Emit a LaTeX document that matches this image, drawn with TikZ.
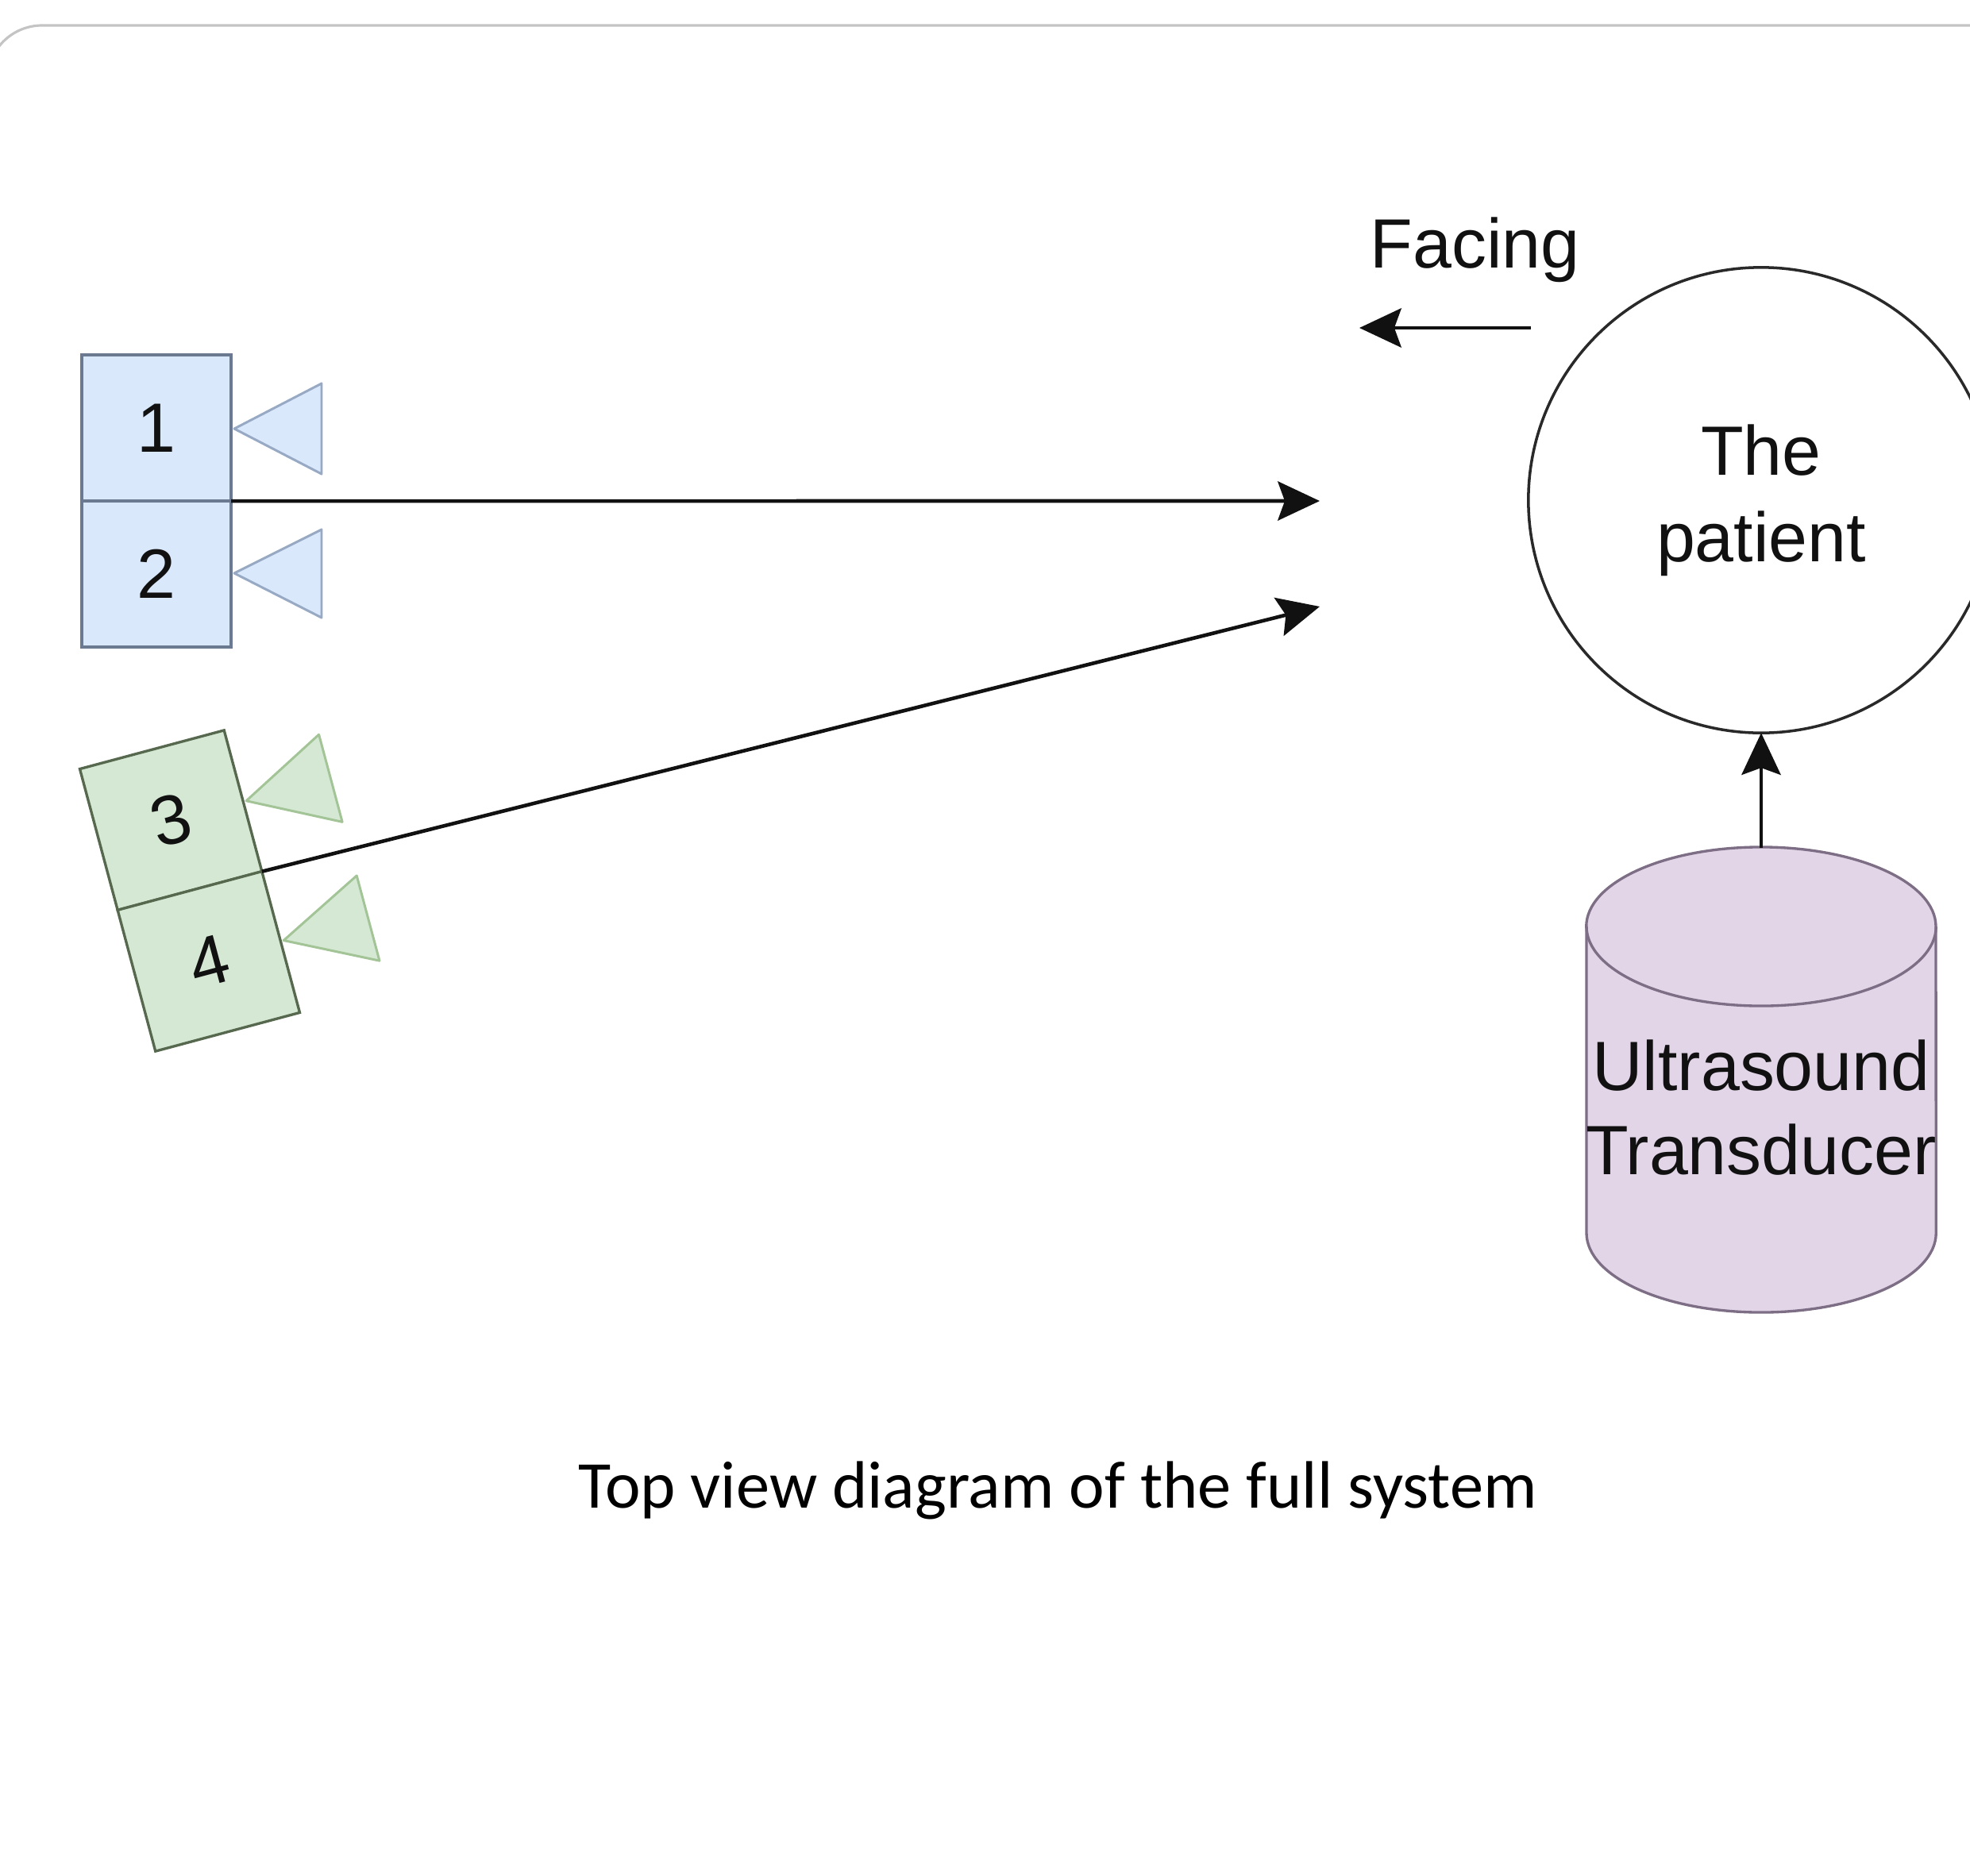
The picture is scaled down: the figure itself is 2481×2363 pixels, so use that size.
\documentclass[tikz,border=0pt]{standalone}
\usepackage{fontspec}
\setmainfont{Liberation Sans}
\newfontfamily\captionfont{Carlito}
\usetikzlibrary{arrows.meta}
\definecolor{ink}{HTML}{111111}
\definecolor{framegray}{HTML}{C4C4C4}
\definecolor{bluefill}{HTML}{DAE8FC}
\definecolor{bluedraw}{HTML}{6B7A90}
\definecolor{bluetri}{HTML}{98A9C4}
\definecolor{greenfill}{HTML}{D5E8D4}
\definecolor{greendraw}{HTML}{56684D}
\definecolor{greentri}{HTML}{A3C496}
\definecolor{purplefill}{HTML}{E1D5E7}
\definecolor{purpledraw}{HTML}{7D6E85}
\begin{document}
\begin{tikzpicture}[x=0.01cm, y=-0.01cm,
  label25/.style={font=\fontsize{25}{30.5}\selectfont, text=ink, align=center, inner sep=0},
  cellbox/.style={rectangle, minimum width=1.88cm, minimum height=1.84cm,
    inner sep=0, outer sep=0, line width=0.95pt, label25},
  bluecell/.style={cellbox, fill=bluefill, draw=bluedraw},
  greencell/.style={cellbox, fill=greenfill, draw=greendraw},
  bluetriangle/.style={fill=bluefill, draw=bluetri, line width=0.85pt, line join=round},
  greentriangle/.style={fill=greenfill, draw=greentri, line width=0.85pt, line join=round},
  link/.style={draw=ink, line width=1.3pt, -{Stealth[length=15pt, width=14pt, inset=2.5pt]}}]

% page area and the light frame along its top
\useasboundingbox (0,0) rectangle (2481,2363);
\draw[framegray, line width=0.9pt, rounded corners=0.69cm] (-16,2600) -- (-16,32) -- (2600,32);

% sensor pair 1/2, facing left
\begin{scope}[shift={(197,631)}]
  \node[bluecell] (c1) at (0,-92) {1};
  \node[bluecell] (c2) at (0,92) {2};
  \path[bluetriangle] (98,-91) -- (208,-148) -- (208,-34) -- cycle;
  \path[bluetriangle] (98,91) -- (208,36) -- (208,147) -- cycle;
\end{scope}

% sensor pair 3/4, turned towards the patient
\begin{scope}[shift={(239,1122)}, rotate=15, transform shape]
  \node[greencell] (c3) at (0,-92) {3};
  \node[greencell] (c4) at (0,92) {4};
  \path[greentriangle] (98,-91) -- (208,-148) -- (208,-34) -- cycle;
  \path[greentriangle] (98,91) -- (208,36) -- (208,147) -- cycle;
\end{scope}

% beam end points
\coordinate (aim1) at (1662,631);
\coordinate (aim2) at (1662,764);

% patient
\node[circle, minimum size=5.86cm, inner sep=0, outer sep=0, draw=ink!90, line width=1pt,
  fill=white, label25, font=\fontsize{25}{31}\selectfont] (patient) at (2218,630) {The\\patient};

% facing direction
\node[label25, anchor=base west] (facing) at (1725,337) {Facing};
\coordinate (facetail) at (1928,413);
\coordinate (facehead) at (1712,413);
\draw[link] (facetail) -- (facehead);

% ultrasound transducer (cylinder)
\node[minimum width=4.4cm, minimum height=5.85cm, inner sep=0, outer sep=0] (us) at (2218,1360.5) {};
\path[fill=purplefill, draw=purpledraw, line width=0.95pt]
  (1998,1167) -- (1998,1553)
  arc[start angle=180, end angle=360, x radius=2.2cm, y radius=1cm]
  -- (2438,1167)
  arc[start angle=0, end angle=180, x radius=2.2cm, y radius=1cm] -- cycle;
\draw[purpledraw, line width=0.95pt]
  (1998,1167) arc[start angle=180, end angle=360, x radius=2.2cm, y radius=1cm];
\node[label25, font=\fontsize{25}{30}\selectfont] (uslabel) at (2218,1395) {Ultrasound\\Transducer};

% connectors
\draw[link] (c1.south east) -- (aim1);
\draw[link] (c3.south east) -- (aim2);
\draw[link] (us.north) -- (patient.south);

% caption
\node[font=\captionfont\fontsize{24}{28}\selectfont, text=black, anchor=base, inner sep=0]
  (caption) at (1332,1899) {Top view diagram of the full system};
\end{tikzpicture}
\end{document}
